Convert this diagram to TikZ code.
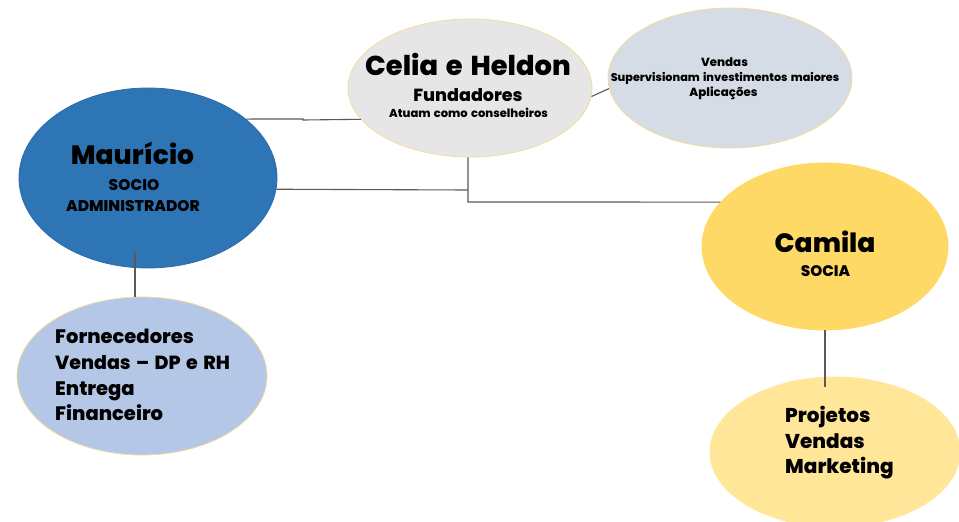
\documentclass[tikz,border=0pt]{standalone}
\usepackage{fontspec}
\setmainfont{Poppins}[BoldFont={Poppins ExtraBold}, WordSpace=1.5]
\usetikzlibrary{shapes.geometric}
\definecolor{celiafill}{HTML}{E7E6E6}
\definecolor{vendfill}{HTML}{D6DCE5}
\definecolor{maurfill}{HTML}{2E75B6}
\definecolor{maurline}{HTML}{2F6AA6}
\definecolor{fornfill}{HTML}{B4C7E7}
\definecolor{camfill}{HTML}{FFD966}
\definecolor{projfill}{HTML}{FFE699}
\definecolor{rimgold}{HTML}{F2DC9B}
\definecolor{linegray}{HTML}{595959}
\begin{document}
\begin{tikzpicture}[x=1pt,y=-1pt,
  bub/.style={ellipse, inner sep=0pt, line width=0.8pt},
  conn/.style={draw=linegray, line width=1.1pt},
  txt/.style={inner sep=0pt, text=black, anchor=base},
  ltxt/.style={inner sep=0pt, text=black, anchor=base west}]
\useasboundingbox (0,0) rectangle (959,522);
% ellipses
\node[bub, draw=rimgold, fill=celiafill, minimum width=244pt, minimum height=138pt] (celia) at (470,88) {};
\node[bub, draw=rimgold, fill=vendfill, minimum width=244pt, minimum height=140pt] (vend) at (730,78) {};
\node[bub, draw=maurline, fill=maurfill, minimum width=258pt, minimum height=180pt] (maur) at (148,178) {};
\node[bub, draw=rimgold, fill=fornfill, minimum width=250pt, minimum height=158pt] (forn) at (142,376) {};
\node[bub, draw=camfill, fill=camfill, minimum width=246pt, minimum height=167pt] (cam) at (825,246.5) {};
\node[bub, draw=projfill, fill=projfill, minimum width=250pt, minimum height=150pt] (proj) at (835,452) {};
% texts
\node[txt, font=\bfseries\fontsize{27.3}{28}\selectfont] (t1) at (468,75) {Celia e Heldon};
\node[txt, font=\bfseries\fontsize{17.5}{18}\selectfont] (t2) at (468,101) {Fundadores};
\node[txt, font=\bfseries\fontsize{11.5}{12}\selectfont] (t3) at (468.5,117) {Atuam como conselheiros};
\node[txt, font=\bfseries\fontsize{11.8}{12}\selectfont] (v1) at (724.5,66) {Vendas};
\node[txt, font=\bfseries\fontsize{11.2}{12}\selectfont] (v2) at (725,81) {Supervisionam investimentos maiores};
\node[txt, font=\bfseries\fontsize{11.8}{12}\selectfont] (v3) at (723.5,96) {Aplicações};
\node[txt, font=\bfseries\fontsize{26.5}{27}\selectfont] (m1) at (132.5,164) {Maurício};
\node[txt, font=\bfseries\fontsize{15.5}{16}\selectfont] (m2) at (134,190) {SOCIO};
\node[txt, font=\bfseries\fontsize{15.5}{16}\selectfont] (m3) at (133,211) {ADMINISTRADOR};
\node[ltxt, font=\bfseries\fontsize{19.5}{20}\selectfont] (f1) at (55,343) {Fornecedores};
\node[ltxt, font=\bfseries\fontsize{19}{20}\selectfont] (f2) at (55,369) {Vendas – DP e RH};
\node[ltxt, font=\bfseries\fontsize{19.5}{20}\selectfont] (f3) at (55,395) {Entrega};
\node[ltxt, font=\bfseries\fontsize{19.5}{20}\selectfont] (f4) at (55,420) {Financeiro};
\node[txt, font=\bfseries\fontsize{26.5}{27}\selectfont] (c1) at (825,252) {Camila};
\node[txt, font=\bfseries\fontsize{15.3}{16}\selectfont] (c2) at (825.5,276) {SOCIA};
\node[ltxt, font=\bfseries\fontsize{20}{20}\selectfont] (p1) at (785,422) {Projetos};
\node[ltxt, font=\bfseries\fontsize{20}{20}\selectfont] (p2) at (785,448) {Vendas};
\node[ltxt, font=\bfseries\fontsize{20}{20}\selectfont] (p3) at (785,473) {Marketing};
% connector joints
\coordinate (k1) at (303,119);
\coordinate (k2) at (303,120);
\coordinate (j3) at (468,190);
\coordinate (j4) at (468,202);
\coordinate (mb) at (135,252);
\coordinate (cb) at (825,387);
% connectors
\draw[conn] (maur.31) -- (k1) -- (k2) -- (celia.196.5);
\draw[conn] (maur.-5) -- (j3);
\draw[conn] (j3 |- celia.south) -- (j4) -- (cam.157);
\draw[conn] (celia.-4) -- (vend.185);
\draw[conn] (mb) -- (mb |- forn.north);
\draw[conn] (cam.south) -- (cb);
\end{tikzpicture}
\end{document}
